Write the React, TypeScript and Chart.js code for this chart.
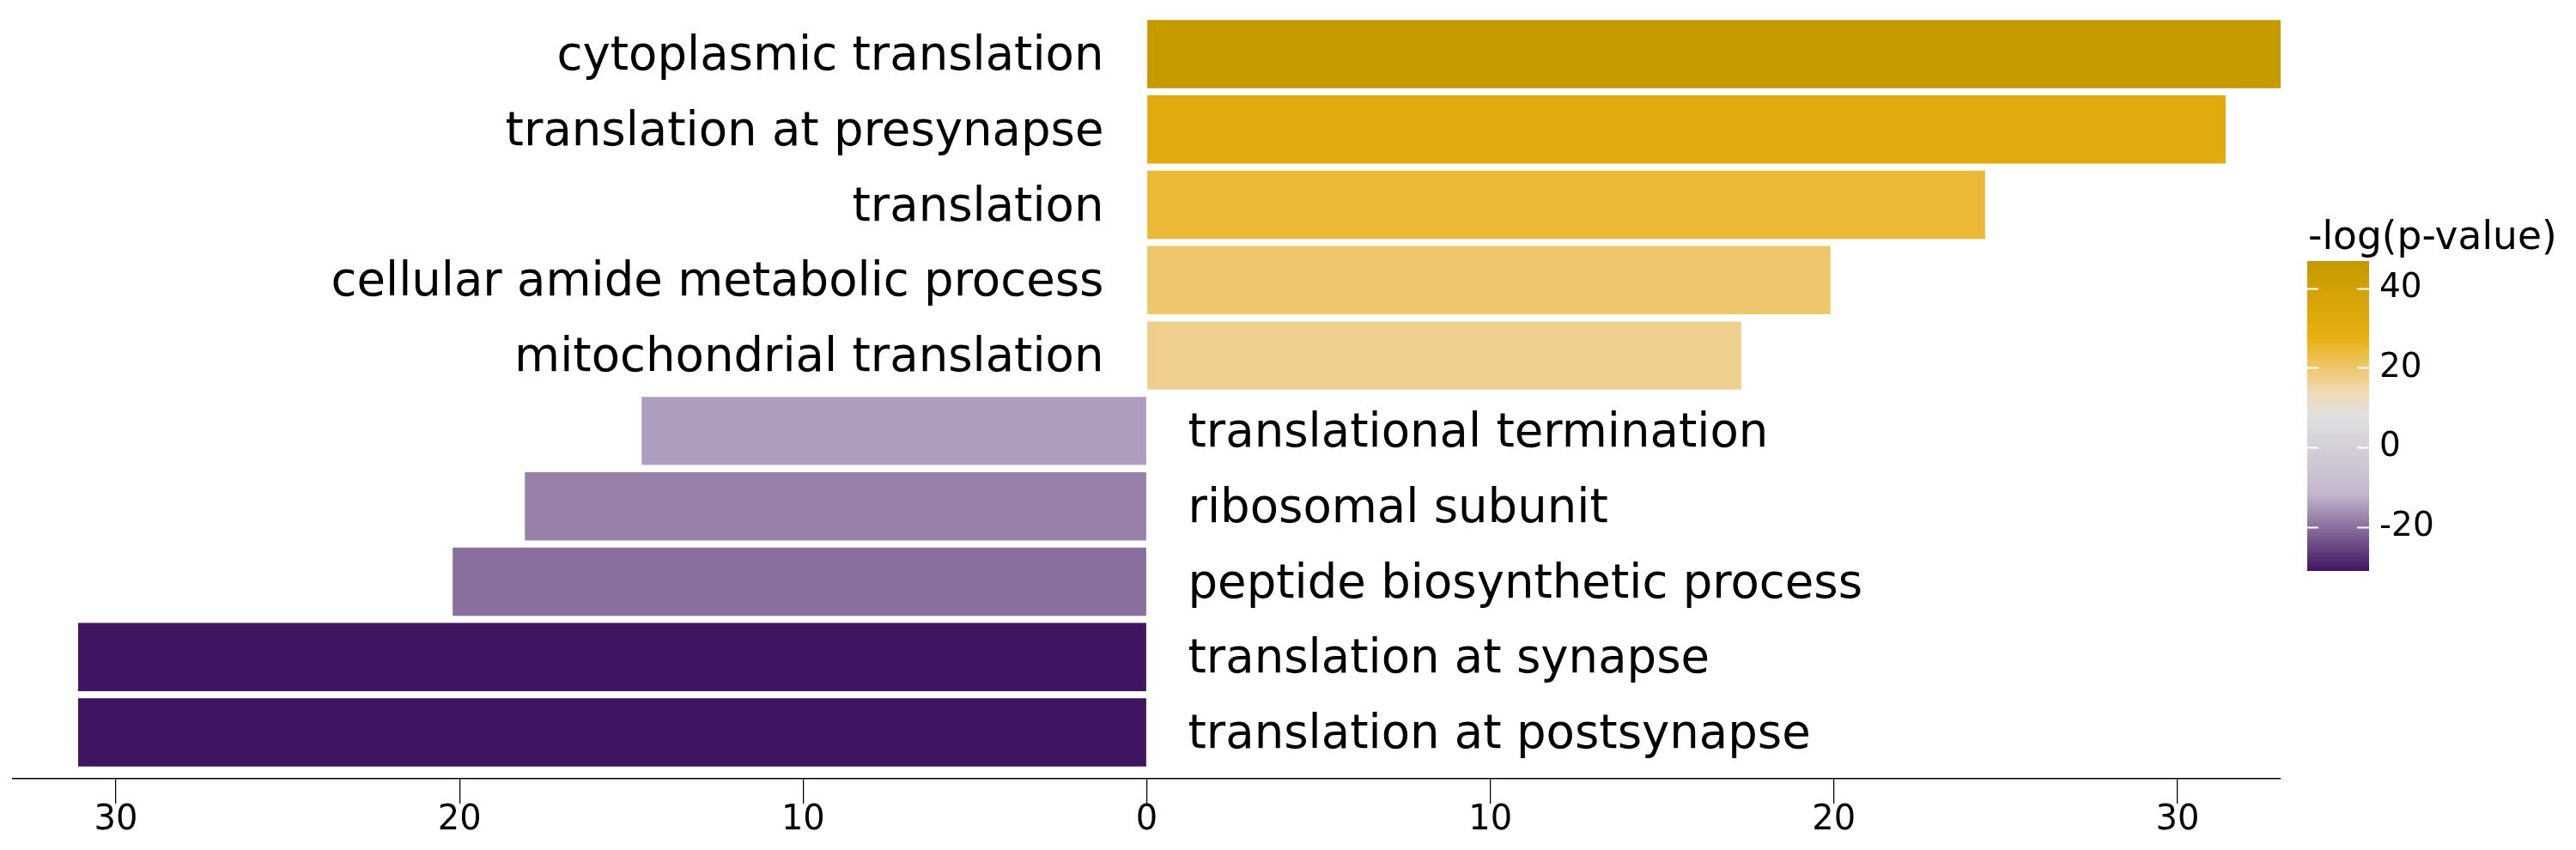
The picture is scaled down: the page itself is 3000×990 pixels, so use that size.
import React, { useEffect, useRef } from 'react';
import { Chart, registerables } from 'chart.js';

Chart.register(...registerables);

// ---- data ----
const categories: string[] = [
  'cytoplasmic translation',
  'translation at presynapse',
  'translation',
  'cellular amide metabolic process',
  'mitochondrial translation',
  'translational termination',
  'ribosomal subunit',
  'peptide biosynthetic process',
  'translation at synapse',
  'translation at postsynapse',
];
// -log(p-value), signed (positive = up, negative = down)
const values: number[] = [46.9, 31.4, 24.4, 19.9, 17.3, -14.7, -18.1, -20.2, -31.1, -31.1];
const axisLimit = 33;
const axisStep = 10;
const colorbarTicks: number[] = [40, 20, 0, -20];
const colorbarTitle = '-log(p-value)';
const cmapStops: [number, string][] = [
  [0, '#3f1461'],
  [0.25, '#c3b7cd'],
  [0.5, '#e0e0e0'],
  [0.58, '#f2d9b3'],
  [0.75, '#e9b010'],
  [1, '#c59900'],
];

const FONT = '"DejaVu Sans", "Noto Sans", sans-serif';

function hexToRgb(h: string): number[] {
  const n = parseInt(h.slice(1), 16);
  return [(n >> 16) & 255, (n >> 8) & 255, n & 255];
}

function cmap(t: number): string {
  t = Math.max(0, Math.min(1, t));
  for (let i = 1; i < cmapStops.length; i++) {
    const [t1, c1] = cmapStops[i];
    const [t0, c0] = cmapStops[i - 1];
    if (t <= t1) {
      const f = (t - t0) / (t1 - t0);
      const a = hexToRgb(c0);
      const b = hexToRgb(c1);
      const r = a.map((v, k) => Math.round(v + (b[k] - v) * f));
      return `rgb(${r[0]},${r[1]},${r[2]})`;
    }
  }
  return cmapStops[cmapStops.length - 1][1];
}

const vmin = Math.min(...values);
const vmax = Math.max(...values);

export default function App() {
  const ref = useRef<HTMLCanvasElement | null>(null);

  useEffect(() => {
    document.body.style.margin = '0';
    const canvas = ref.current;
    if (!canvas) return;

    const colors = values.map((v) => cmap((v - vmin) / (vmax - vmin)));

    const overlay = {
      id: 'overlay',
      afterDraw(chart: any) {
        const ctx = chart.ctx as CanvasRenderingContext2D;
        const xs = chart.scales.x;
        const ys = chart.scales.y;
        const x0 = xs.getPixelForValue(0);
        ctx.save();
        // category labels
        ctx.fillStyle = '#000';
        ctx.font = `54.5px ${FONT}`;
        ctx.textBaseline = 'middle';
        categories.forEach((c, i) => {
          const y = ys.getPixelForValue(i) + 4;
          if (values[i] >= 0) {
            ctx.textAlign = 'right';
            ctx.fillText(c, x0 - 50, y);
          } else {
            ctx.textAlign = 'left';
            ctx.fillText(c, x0 + 48, y);
          }
        });

        // colorbar
        const cbLeft = 2687;
        const cbRight = 2759;
        const cbTop = 304;
        const cbBottom = 665;
        const grad = ctx.createLinearGradient(0, cbBottom, 0, cbTop);
        cmapStops.forEach(([t, c]) => grad.addColorStop(t, c));
        ctx.fillStyle = grad;
        ctx.fillRect(cbLeft, cbTop, cbRight - cbLeft, cbBottom - cbTop);

        const yFor = (v: number) => cbBottom - ((v - vmin) / (vmax - vmin)) * (cbBottom - cbTop);
        ctx.strokeStyle = '#ffffff';
        ctx.lineWidth = 2;
        ctx.font = `39px ${FONT}`;
        ctx.textAlign = 'left';
        ctx.textBaseline = 'middle';
        colorbarTicks.forEach((v) => {
          const y = Math.round(yFor(v)) + 0.5;
          ctx.beginPath();
          ctx.moveTo(cbLeft, y);
          ctx.lineTo(cbLeft + 13, y);
          ctx.moveTo(cbRight - 14, y);
          ctx.lineTo(cbRight, y);
          ctx.stroke();
          ctx.fillStyle = '#000';
          ctx.fillText(String(v), 2771, yFor(v));
        });
        ctx.font = `45.5px ${FONT}`;
        ctx.textBaseline = 'alphabetic';
        ctx.fillStyle = '#000';
        ctx.fillText(colorbarTitle, 2688, 290);
        ctx.restore();
      },
    };

    const chart = new Chart(canvas, {
      type: 'bar',
      data: {
        datasets: [
          {
            data: values.map((v, i) => ({ x: v, y: i })),
            backgroundColor: colors,
            borderWidth: 0,
            barPercentage: 0.905,
            categoryPercentage: 1,
          },
        ],
      },
      options: {
        indexAxis: 'y',
        responsive: false,
        animation: false,
        devicePixelRatio: 1,
        layout: { padding: { left: 15, right: 344, top: 9, bottom: 0 } },
        plugins: { legend: { display: false }, tooltip: { enabled: false } },
        scales: {
          x: {
            type: 'linear',
            position: 'bottom',
            min: -axisLimit,
            max: axisLimit,
            afterFit(scale: any) {
              scale.height = 83;
            },
            ticks: {
              stepSize: axisStep,
              includeBounds: false,
              padding: 0,
              color: '#000',
              font: { family: FONT, size: 40, lineHeight: 1 },
              callback: (v: any) => String(Math.abs(Number(v))),
              maxRotation: 0,
              autoSkip: false,
            },
            grid: {
              drawOnChartArea: false,
              drawTicks: true,
              tickLength: 29,
              color: '#000',
              lineWidth: 1.25,
            },
            border: { display: true, color: '#000', width: 1.5 },
          },
          y: {
            type: 'linear',
            reverse: true,
            offset: false,
            min: -0.615,
            max: categories.length - 1 + 0.615,
            display: false,
            ticks: { stepSize: 1, includeBounds: false },
            grid: { offset: false },
          },
        },
      },
      plugins: [overlay],
    });

    return () => chart.destroy();
  }, []);

  return (
    <div style={{ width: 3000, height: 990 }}>
      <canvas ref={ref} width={3000} height={990} style={{ display: 'block', width: 3000, height: 990 }} />
    </div>
  );
}
